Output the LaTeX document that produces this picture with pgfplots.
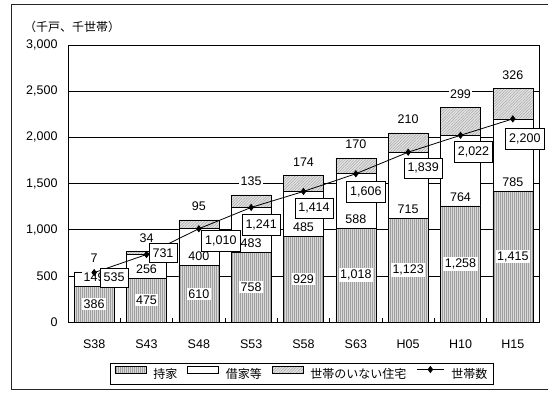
\documentclass[border=0pt]{standalone}
\usepackage{pgfplots}
\pgfplotsset{compat=1.18}
\usepackage{pgfplotstable}
\usepackage{fontspec}
\setmainfont{Liberation Sans}
\newfontfamily\jp{Noto Sans CJK JP}
\usetikzlibrary{patterns.meta}

% housing stock by tenure and number of households (thousands)
\pgfplotstableread{
x own rent vac hh dx dy
0 386 149 7 535 20 -5
1 475 256 34 731 16.5 1.5
2 610 400 95 1010 22 -12
3 758 483 135 1241 10 -17.5
4 929 485 174 1414 10.5 -16.5
5 1018 588 170 1606 10 -18
6 1123 715 210 1839 15 -16
7 1258 764 299 2022 13 -16.5
8 1415 785 326 2200 12 -20
}\housing
% label heights: middle of owned part, just above the base of rented part, above the bar top
\pgfplotstablecreatecol[expr={\thisrow{own}/2}]{ownpos}\housing
\pgfplotstablecreatecol[expr={\thisrow{own}+97.5}]{rentpos}\housing
\pgfplotstablecreatecol[expr={\thisrow{own}+\thisrow{rent}+\thisrow{vac}+146}]{vacpos}\housing

\tikzset{
  ownfill/.style={fill=gray!30, postaction={pattern={Lines[angle=90,distance=2pt,line width=0.55pt]}, pattern color=gray!75}},
  vacfill/.style={fill=gray!22, postaction={pattern={Lines[angle=45,distance=2pt,line width=0.5pt]}, pattern color=gray!70}},
  seglabel/.style={fill=white, inner xsep=1.5pt, inner ysep=1.5pt, anchor=center, text=black},
}
\pgfplotsset{
  frame/.style={at={(68pt,70pt)}, anchor=south west,
    scale only axis, width=471pt, height=277pt,
    xmin=-0.5, xmax=8.5, ymin=0, ymax=3000,
    /pgf/number format/1000 sep={,},
    /pgf/number format/assume math mode=true},
  hh legend/.style={legend image code/.code={\draw[##1, sharp plot, mark repeat=2, mark phase=2] plot coordinates {(0pt,4.5pt) (13.5pt,4.5pt) (27pt,4.5pt)};}},
}

\begin{document}
\begin{tikzpicture}[font=\fontsize{12.5}{14}\selectfont]
\useasboundingbox (0,0) rectangle (548pt,392pt);
\draw[line width=0.8pt, black!85] (549pt,388pt) -- (11pt,388pt) -- (11pt,3pt) -- (549pt,3pt);
\node[anchor=west, font=\jp\fontsize{12}{14}\selectfont, inner sep=0pt] at (24pt,365pt) {（千戸、千世帯）};
\begin{axis}[
  frame,
  ybar stacked, bar width=40pt,
  xtick={0,...,8}, xticklabels={S38,S43,S48,S53,S58,S63,H05,H10,H15},
  minor xtick={0.5,1.5,...,7.5},
  ytick={0,500,...,3000},
  major tick length=0pt, minor tick length=4pt, tick align=inside, tick pos=left,
  minor tick style={black, line width=0.6pt},
  ymajorgrids, major grid style={black, line width=0.6pt},
  axis line style={black, line width=0.8pt},
  xticklabel style={yshift=-14pt},
  yticklabel style={xshift=-7pt},
  legend columns=4,
  legend style={at={(0.4968,-0.1877)}, anchor=center, draw=black, line width=0.8pt,
    font=\jp\fontsize{12}{14}\selectfont, inner xsep=4pt, inner ysep=2.5pt,
    /tikz/every odd column/.append style={column sep=5pt},
    /tikz/every even column/.append style={column sep=8pt}},
  legend image code/.code={\draw[#1] (0pt,1pt) rectangle (31pt,7.5pt);},
]
\addplot[draw=black, line width=0.6pt, ownfill] table[x=x, y=own] {\housing};
\addlegendentry{持家}
\addplot[draw=black, line width=0.6pt, fill=white] table[x=x, y=rent] {\housing};
\addlegendentry{借家等}
\addplot[draw=black, line width=0.6pt, vacfill] table[x=x, y=vac] {\housing};
\addlegendentry{世帯のいない住宅}
\addlegendimage{black, line width=0.8pt, mark=diamond*, mark size=3pt, hh legend}
\addlegendentry{世帯数}
\end{axis}
\begin{axis}[frame, hide axis, clip=false]
% values of each bar part
\addplot[draw=none, mark=none, nodes near coords, point meta=explicit,
  every node near coord/.append style={seglabel}] table[x=x, y=ownpos, meta=own] {\housing};
\addplot[draw=none, mark=none, nodes near coords, point meta=explicit,
  every node near coord/.append style={seglabel, inner ysep=0.5pt}] table[x=x, y=rentpos, meta=rent] {\housing};
\addplot[draw=none, mark=none, nodes near coords, point meta=explicit,
  every node near coord/.append style={seglabel, inner ysep=0.5pt}] table[x=x, y=vacpos, meta=vac] {\housing};
% households
\addplot[black, line width=0.8pt, mark=diamond*, mark size=3pt,
  nodes near coords, point meta=explicit,
  visualization depends on={\thisrow{dx} \as \ldx},
  visualization depends on={\thisrow{dy} \as \ldy},
  every node near coord/.append style={draw=black, fill=white, line width=0.6pt, inner xsep=3.5pt, inner ysep=5pt,
    anchor=center, xshift={\ldx}, yshift={\ldy}, text=black}]
  table[x=x, y=hh, meta=hh] {\housing};
\end{axis}
\end{tikzpicture}
\end{document}
